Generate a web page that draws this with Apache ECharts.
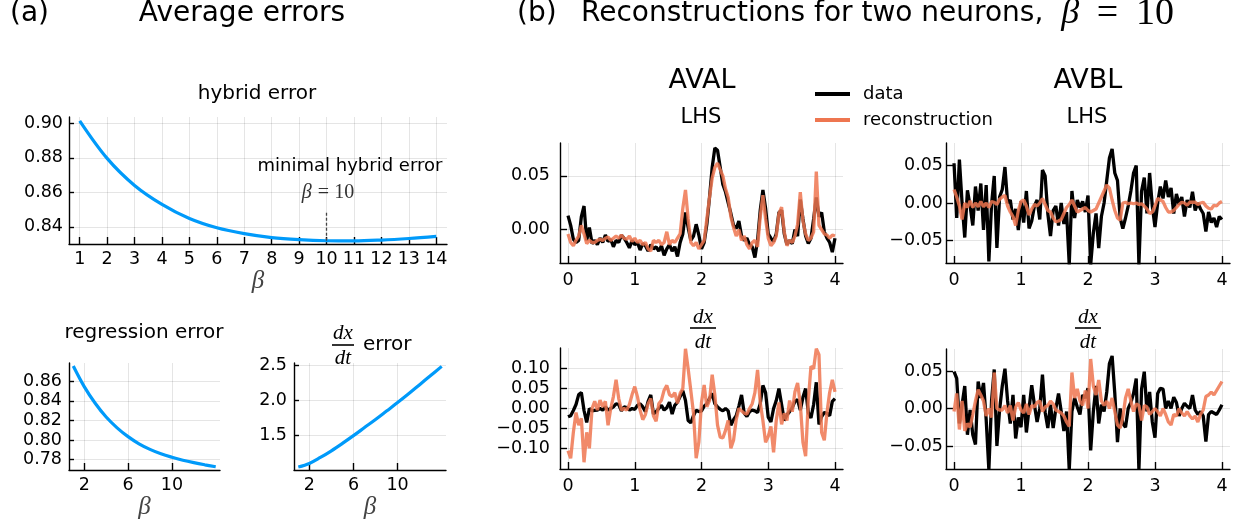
<!DOCTYPE html>
<html>
<head>
<meta charset="utf-8">
<title>Average errors and reconstructions</title>
<script src="https://cdn.jsdelivr.net/npm/echarts@6/dist/echarts.min.js"></script>
<style>
html, body { margin: 0; padding: 0; background: #fff; }
#chart { width: 1238px; height: 525px; }
</style>
</head>
<body>
<div id="chart"></div>
<script>
// ---- data: panel (a) ----
const betas = [1, 2, 3, 4, 5, 6, 7, 8, 9, 10, 11, 12, 13, 14]
const hybridError = [0.9015, 0.8797, 0.8640, 0.8530, 0.8448, 0.8394, 0.8360, 0.8337, 0.8325, 0.8319, 0.8318, 0.8323, 0.8332, 0.8344]
const regressionError = [0.8755, 0.8545, 0.8375, 0.8235, 0.8125, 0.8035, 0.7962, 0.7905, 0.7860, 0.7825, 0.7795, 0.7770, 0.7748, 0.7728]
const dxdtError = [1.05, 1.10, 1.185, 1.28, 1.385, 1.495, 1.61, 1.725, 1.845, 1.965, 2.09, 2.22, 2.35, 2.48]
const minimalBeta = 10

const betaTicks = [1, 2, 3, 4, 5, 6, 7, 8, 9, 10, 11, 12, 13, 14]
const betaTicksSmall = [2, 6, 10]
const hybridTicks = [0.84, 0.86, 0.88, 0.90]
const regressionTicks = [0.78, 0.80, 0.82, 0.84, 0.86]
const dxdtErrorTicks = [1.5, 2.0, 2.5]

// ---- data: panel (b), sampled every 0.04 time units ----
const times = Array.from({ length: 101 }, (_, i) => +(i * 0.04).toFixed(2))
const timeTicks = [0, 1, 2, 3, 4]

const avalLhsData = [
  0.013, 0.004, -0.009, -0.012, -0.010, 0.012, 0.022, -0.010, 0.002, -0.013,
  -0.010, -0.014, -0.008, -0.012, -0.005, -0.011, -0.009, -0.016, -0.010, -0.012,
  -0.005, -0.008, -0.012, -0.017, -0.010, -0.014, -0.012, -0.019, -0.013, -0.015,
  -0.020, -0.014, -0.018, -0.016, -0.020, -0.015, -0.024, -0.018, -0.014, -0.020,
  -0.016, -0.025, -0.012, -0.004, 0.016, 0.002, -0.010, -0.006, 0.005, -0.005,
  -0.018, -0.012, 0.005, 0.030, 0.058, 0.076, 0.074, 0.058, 0.042, 0.035,
  0.025, 0.015, 0.004, 0.001, 0.008, -0.006, -0.010, -0.008, -0.014, -0.016,
  -0.026, -0.010, 0.018, 0.037, 0.020, -0.004, -0.008, -0.011, -0.004, 0.016,
  0.018, -0.004, -0.014, -0.010, -0.013, 0.000, -0.006, 0.028, 0.010, -0.006,
  -0.013, -0.008, 0.010, 0.030, 0.012, 0.016, -0.002, -0.008, -0.012, -0.021,
  -0.008
]
const avalLhsRecon = [
  -0.004, -0.012, -0.015, -0.010, -0.006, 0.004, -0.004, -0.013, -0.010, -0.012,
  -0.012, -0.010, -0.009, -0.010, -0.008, -0.007, -0.010, -0.008, -0.006, -0.008,
  -0.005, -0.008, -0.009, -0.006, -0.011, -0.008, -0.012, -0.010, -0.014, -0.012,
  -0.018, -0.020, -0.010, -0.012, -0.010, -0.014, -0.012, -0.002, -0.014, -0.010,
  -0.012, -0.008, -0.004, 0.020, 0.037, 0.010, -0.012, -0.015, -0.012, -0.018,
  -0.014, -0.010, 0.010, 0.030, 0.048, 0.058, 0.062, 0.056, 0.050, 0.038,
  0.030, 0.012, 0.002, -0.006, 0.000, -0.010, -0.006, -0.014, -0.018, -0.012,
  -0.010, -0.016, 0.012, 0.032, 0.010, -0.008, -0.015, -0.012, -0.006, 0.015,
  0.021, -0.002, -0.015, -0.010, -0.012, -0.006, 0.005, 0.035, 0.008, -0.004,
  -0.010, -0.008, -0.002, 0.054, 0.004, 0.000, -0.004, -0.005, -0.008, -0.005,
  -0.006
]
const avblLhsData = [
  0.053, -0.020, 0.058, 0.000, -0.046, 0.017, -0.004, -0.030, 0.022, -0.010,
  0.026, -0.036, 0.024, -0.078, -0.002, 0.036, -0.060, 0.008, 0.018, 0.048,
  0.000, 0.004, -0.022, -0.008, -0.036, 0.002, -0.026, 0.016, -0.034, -0.024,
  -0.004, 0.004, -0.022, 0.044, 0.036, -0.014, -0.044, -0.010, -0.004, -0.030,
  0.000, -0.028, -0.012, -0.082, 0.016, -0.020, 0.004, -0.006, 0.002, -0.012,
  0.010, -0.082, -0.040, -0.014, -0.060, -0.018, 0.000, 0.030, 0.060, 0.072,
  0.040, 0.030, -0.020, -0.034, -0.020, -0.004, 0.016, 0.040, 0.050, -0.082,
  0.016, 0.034, -0.014, 0.040, -0.004, -0.032, 0.000, 0.022, 0.006, 0.030,
  0.008, 0.020, -0.014, 0.012, -0.002, 0.008, -0.018, 0.004, -0.006, 0.015,
  -0.010, 0.000, -0.008, -0.014, -0.038, -0.012, -0.026, -0.020, -0.032, -0.018,
  -0.022
]
const avblLhsRecon = [
  0.018, 0.008, -0.004, -0.022, 0.000, -0.006, 0.003, -0.006, 0.000, -0.005,
  0.002, -0.005, 0.000, -0.006, 0.002, 0.001, -0.002, 0.005, 0.008, 0.010,
  -0.004, -0.012, -0.018, -0.030, -0.010, 0.002, 0.004, -0.004, -0.016, -0.008,
  -0.002, -0.004, 0.000, 0.006, -0.002, -0.010, -0.012, -0.020, -0.025, -0.024,
  -0.022, -0.014, -0.006, -0.002, 0.004, -0.004, -0.012, -0.010, -0.008, -0.006,
  -0.010, -0.012, -0.010, -0.008, 0.000, 0.008, 0.016, 0.024, 0.020, 0.004,
  -0.010, -0.020, -0.023, 0.000, 0.001, -0.001, 0.000, -0.001, 0.000, -0.002,
  -0.001, -0.004, -0.008, -0.014, -0.012, -0.004, 0.006, 0.004, 0.002, -0.006,
  -0.012, -0.012, -0.010, -0.006, -0.002, 0.001, 0.000, -0.003, 0.001, 0.001,
  0.001, -0.002, 0.000, 0.001, -0.004, -0.007, -0.008, -0.003, -0.004, 0.000,
  0.002
]
const avalDxdtData = [
  -0.021, -0.018, -0.005, 0.010, 0.035, 0.040, -0.005, -0.035, 0.000, -0.006,
  -0.005, -0.004, 0.000, -0.004, 0.004, -0.004, 0.000, 0.004, 0.012, 0.010,
  -0.006, 0.004, 0.002, -0.004, 0.000, -0.002, 0.008, 0.012, 0.004, -0.008,
  0.018, 0.034, -0.014, -0.008, 0.000, 0.008, -0.004, 0.002, 0.016, -0.014,
  0.008, 0.016, 0.030, 0.045, 0.020, -0.030, -0.036, -0.018, -0.004, -0.008,
  -0.006, 0.006, 0.012, 0.025, 0.038, 0.012, 0.004, -0.002, -0.006, 0.000,
  -0.006, -0.042, -0.028, -0.018, 0.006, 0.034, -0.012, -0.020, -0.008, -0.004,
  -0.006, -0.010, 0.012, 0.058, 0.040, -0.022, -0.034, 0.000, 0.020, 0.050,
  0.010, -0.030, -0.016, -0.008, 0.002, 0.018, 0.022, -0.004, 0.028, 0.050,
  -0.010, -0.024, 0.010, 0.066, -0.040, -0.020, -0.010, -0.012, -0.018, 0.018,
  0.025
]
const avalDxdtRecon = [
  -0.106, -0.125, -0.060, -0.010, -0.042, -0.025, -0.135, -0.060, -0.100, 0.000,
  0.018, -0.004, 0.021, 0.004, 0.018, -0.042, 0.000, 0.030, 0.072, 0.025,
  -0.004, 0.000, -0.004, 0.010, 0.035, 0.055, 0.030, -0.004, -0.028, -0.015,
  0.012, 0.025, -0.018, -0.032, 0.012, 0.021, 0.046, 0.058, 0.035, 0.030,
  0.040, 0.013, 0.038, 0.050, 0.150, 0.100, 0.045, -0.012, -0.125, -0.085,
  0.015, 0.059, 0.004, 0.020, 0.085, 0.034, -0.042, -0.072, -0.074, -0.055,
  -0.030, -0.100, -0.080, -0.028, 0.000, -0.006, -0.012, -0.014, 0.000, 0.012,
  0.040, 0.097, 0.015, -0.030, -0.085, -0.070, -0.045, -0.110, -0.030, 0.015,
  -0.040, -0.012, -0.030, 0.020, -0.008, 0.042, 0.064, 0.012, -0.085, -0.120,
  0.020, 0.106, 0.100, 0.150, 0.135, -0.060, -0.080, -0.010, 0.040, 0.072,
  0.042
]
const avblDxdtData = [
  0.049, 0.040, -0.020, 0.005, 0.030, -0.035, -0.002, -0.035, -0.048, 0.036,
  0.014, 0.034, -0.015, -0.082, 0.010, 0.052, -0.050, -0.002, 0.030, 0.053,
  0.010, -0.020, 0.018, -0.040, -0.012, -0.025, 0.018, -0.032, 0.000, 0.031,
  0.005, -0.018, 0.000, 0.045, -0.005, -0.026, 0.005, -0.026, 0.000, 0.020,
  -0.004, -0.030, -0.004, -0.082, -0.004, 0.014, 0.002, -0.008, 0.018, 0.014,
  0.027, -0.056, -0.004, 0.030, -0.020, 0.005, -0.004, 0.022, 0.060, 0.070,
  0.020, -0.045, 0.000, -0.020, -0.025, 0.000, 0.008, 0.020, 0.040, -0.082,
  0.026, 0.049, -0.004, 0.022, -0.018, -0.039, 0.020, 0.027, 0.026, 0.000,
  0.010, 0.000, 0.015, 0.008, -0.010, 0.000, 0.007, 0.003, 0.000, 0.018,
  -0.002, -0.008, -0.004, -0.010, -0.044, -0.008, -0.004, -0.006, -0.008, -0.002,
  0.005
]
const avblDxdtRecon = [
  -0.004, 0.020, -0.028, 0.010, -0.030, -0.020, -0.025, -0.008, 0.010, 0.025,
  0.018, 0.010, -0.010, 0.000, -0.012, 0.048, 0.000, -0.002, -0.002, 0.004,
  -0.006, 0.004, -0.016, 0.002, 0.008, -0.002, -0.006, 0.006, -0.008, 0.004,
  0.002, 0.008, 0.010, -0.004, 0.002, 0.004, 0.010, 0.006, -0.002, -0.004,
  -0.006, -0.010, -0.018, -0.024, 0.048, 0.014, 0.026, 0.010, 0.004, 0.024,
  0.000, 0.066, 0.030, 0.018, 0.038, 0.010, 0.004, 0.010, 0.000, 0.014,
  -0.004, -0.022, -0.026, -0.012, 0.014, 0.026, 0.010, -0.004, 0.006, 0.004,
  -0.016, 0.004, 0.002, -0.008, -0.004, 0.000, -0.004, -0.010, 0.000, -0.008,
  -0.018, -0.022, -0.008, -0.010, 0.000, -0.006, -0.010, -0.004, -0.010, -0.014,
  -0.010, -0.018, -0.008, -0.002, 0.016, 0.018, 0.022, 0.018, 0.024, 0.030,
  0.036
]

const lhsTicksAval = [0.00, 0.05]
const lhsTicksAvbl = [-0.05, 0.00, 0.05]
const dxdtTicksAval = [-0.10, -0.05, 0.00, 0.05, 0.10]
const dxdtTicksAvbl = [-0.05, 0.00, 0.05]

// ---- styling ----
const FONT = 'DejaVu Sans'
const MATH = 'Liberation Serif'
const BLUE = '#009AFA'
const ORANGE = '#EE7650'
const fmt2 = v => v.toFixed(2).replace('-', '\u2212')
const fmt1 = v => v.toFixed(1)
const fmt0 = v => String(v)

const makeAxis = (gridIndex, min, max, ticks, formatter, margin, tickLen) => ({
  type: 'value',
  gridIndex,
  min,
  max,
  axisLine: { show: true, onZero: false, lineStyle: { color: '#000', width: 1.4 } },
  axisTick: { show: true, inside: true, length: tickLen || 6, customValues: ticks, lineStyle: { color: '#000', width: 1.4 } },
  axisLabel: { customValues: ticks, formatter, color: '#000', fontFamily: FONT, fontSize: 17.5, margin },
  splitLine: { show: true, lineStyle: { color: 'rgba(0,0,0,0.1)', width: 1 } }
})

const betaName = gap => ({
  name: '\u03b2',
  nameLocation: 'middle',
  nameGap: gap,
  nameTextStyle: { fontFamily: MATH, fontStyle: 'italic', fontSize: 25, color: '#444' }
})

const pairs = (xs, ys) => xs.map((x, i) => [x, ys[i]])

const traceSeries = (name, idx, values, color, opacity) => ({
  name,
  type: 'line',
  xAxisIndex: idx,
  yAxisIndex: idx,
  data: pairs(times, values),
  symbol: 'none',
  clip: true,
  itemStyle: { color },
  lineStyle: { color, width: 3.3, opacity }
})

const text = (x, y, str, size, align, extra) => ({
  type: 'text',
  x,
  y,
  silent: true,
  style: Object.assign({
    text: str,
    fontSize: size,
    fontFamily: FONT,
    fill: '#000',
    textAlign: align || 'center',
    textVerticalAlign: 'middle'
  }, extra || {})
})

const mathStyle = size => ({ fontFamily: MATH, fontStyle: 'italic', fontSize: size })

const fraction = (cx, yTop, yBar, yBottom, half) => [
  text(cx, yTop, 'dx', 21, 'center', mathStyle(21)),
  { type: 'line', silent: true, shape: { x1: cx - half, y1: yBar, x2: cx + half, y2: yBar }, style: { stroke: '#000', lineWidth: 1.6 } },
  text(cx, yBottom, 'dt', 21, 'center', mathStyle(21))
]

const chart = echarts.init(document.getElementById('chart'))

const option = {
  animation: false,
  backgroundColor: '#fff',
  legend: {
    data: ['data', 'reconstruction'],
    orient: 'vertical',
    left: 815,
    top: 84,
    padding: 0,
    icon: 'rect',
    itemWidth: 35,
    itemHeight: 4,
    itemGap: 6,
    textStyle: { fontFamily: FONT, fontSize: 18, lineHeight: 20, color: '#000', padding: [0, 0, 0, 8] }
  },
  grid: [
    { left: 69, top: 117, width: 378, height: 127 },
    { left: 69, top: 363, width: 151, height: 107 },
    { left: 294, top: 363, width: 152, height: 107 },
    { left: 560, top: 143, width: 283, height: 120 },
    { left: 946, top: 143, width: 284, height: 120 },
    { left: 560, top: 348, width: 283, height: 121 },
    { left: 946, top: 349, width: 284, height: 120 }
  ],
  xAxis: [
    Object.assign(makeAxis(0, 0.61, 14.39, betaTicks, fmt0, 6, 7), betaName(23)),
    Object.assign(makeAxis(1, 0.61, 14.39, betaTicksSmall, fmt0, 6, 7), betaName(25)),
    Object.assign(makeAxis(2, 0.61, 14.39, betaTicksSmall, fmt0, 6, 7), betaName(25)),
    makeAxis(3, -0.12, 4.12, timeTicks, fmt0, 8, 7),
    makeAxis(4, -0.12, 4.12, timeTicks, fmt0, 8, 7),
    makeAxis(5, -0.12, 4.12, timeTicks, fmt0, 8, 7),
    makeAxis(6, -0.12, 4.12, timeTicks, fmt0, 8, 7)
  ],
  yAxis: [
    makeAxis(0, 0.8300, 0.9037, hybridTicks, fmt2, 6, 5),
    makeAxis(1, 0.7695, 0.8786, regressionTicks, fmt2, 7, 5),
    makeAxis(2, 1.007, 2.528, dxdtErrorTicks, fmt1, 7, 5),
    makeAxis(3, -0.0311, 0.0807, lhsTicksAval, fmt2, 10, 7),
    makeAxis(4, -0.080, 0.080, lhsTicksAvbl, fmt2, 3, 7),
    makeAxis(5, -0.152, 0.152, dxdtTicksAval, fmt2, 10, 7),
    makeAxis(6, -0.0807, 0.0793, dxdtTicksAvbl, fmt2, 3, 7)
  ],
  series: [
    {
      type: 'line',
      xAxisIndex: 0,
      yAxisIndex: 0,
      data: pairs(betas, hybridError),
      symbol: 'none',
      smooth: 0.35,
      lineStyle: { color: BLUE, width: 3.2 },
      markLine: {
        silent: true,
        symbol: 'none',
        label: { show: false },
        lineStyle: { color: '#444', type: [3, 2], width: 1.3 },
        data: [[{ coord: [minimalBeta, hybridError[minimalBeta - 1]] }, { coord: [minimalBeta, 0.849] }]]
      }
    },
    {
      type: 'line',
      xAxisIndex: 1,
      yAxisIndex: 1,
      data: pairs(betas, regressionError),
      symbol: 'none',
      smooth: 0.35,
      lineStyle: { color: BLUE, width: 3.2 }
    },
    {
      type: 'line',
      xAxisIndex: 2,
      yAxisIndex: 2,
      data: pairs(betas, dxdtError),
      symbol: 'none',
      smooth: 0.35,
      lineStyle: { color: BLUE, width: 3.2 }
    },
    traceSeries('data', 3, avalLhsData, '#000', 1),
    traceSeries('reconstruction', 3, avalLhsRecon, ORANGE, 0.85),
    traceSeries('data', 4, avblLhsData, '#000', 1),
    traceSeries('reconstruction', 4, avblLhsRecon, ORANGE, 0.85),
    traceSeries('data', 5, avalDxdtData, '#000', 1),
    traceSeries('reconstruction', 5, avalDxdtRecon, ORANGE, 0.85),
    traceSeries('data', 6, avblDxdtData, '#000', 1),
    traceSeries('reconstruction', 6, avblDxdtRecon, ORANGE, 0.85)
  ],
  graphic: [
    text(10, 14, '(a)', 28, 'left'),
    text(242, 14, 'Average errors', 28),
    text(517, 14, '(b)', 28, 'left'),
    text(581, 14, 'Reconstructions for two neurons,\u00a0\u00a0{m|\u03b2}\u00a0\u00a0{r|=}\u00a0\u00a0{r|10}', 28, 'left', {
      rich: {
        m: mathStyle(36),
        r: { fontFamily: MATH, fontSize: 38 }
      }
    }),
    text(257, 94, 'hybrid error', 20),
    text(350, 166, 'minimal hybrid error', 18),
    text(328, 193, '{m|\u03b2} {r|= 10}', 19, 'center', {
      rich: { m: Object.assign(mathStyle(20), { fill: '#333' }), r: { fontFamily: MATH, fontSize: 20, fill: '#333' } }
    }),
    text(144, 333, 'regression error', 20),
    ...fraction(343, 333, 345, 358, 11),
    text(363, 345, 'error', 20, 'left'),
    text(702, 81, 'AVAL', 27),
    text(701, 118, 'LHS', 21),
    text(1088, 81, 'AVBL', 27),
    text(1087, 118, 'LHS', 21),
    ...fraction(703, 317, 328, 342, 13),
    ...fraction(1088, 317, 328, 342, 13)
  ]
}

chart.setOption(option)

window.addEventListener('resize', () => {
  chart.resize()
})
</script>
</body>
</html>
